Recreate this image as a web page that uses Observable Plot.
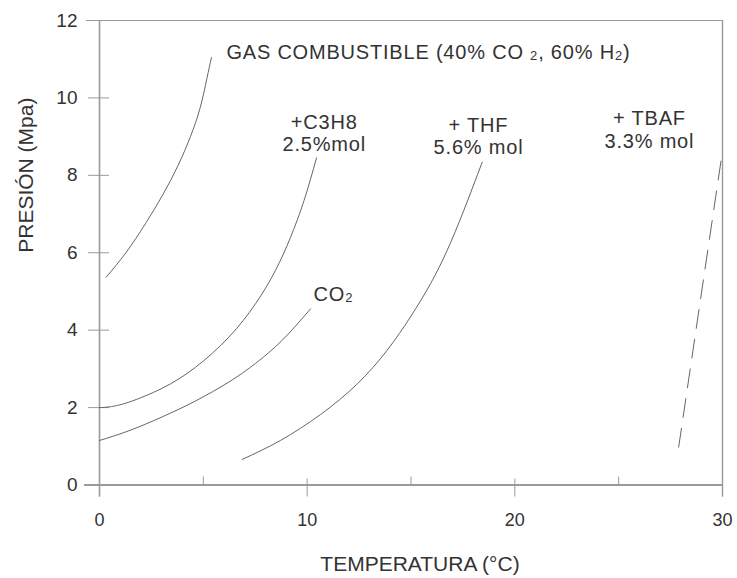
<!DOCTYPE html>
<html>
<head>
<meta charset="utf-8">
<script src="https://cdn.jsdelivr.net/npm/d3@7"></script>
<script src="https://cdn.jsdelivr.net/npm/@observablehq/plot@0.6"></script>
<style>
  html, body { margin: 0; padding: 0; background: #fff; }
  #chart { width: 737px; height: 578px; }
</style>
</head>
<body>
<div id="chart"></div>
<script>
// ---- Data ----
const xTicks = [0, 10, 20, 30];
const xMinorTicks = [5, 15, 25];
const yTicks = [0, 2, 4, 6, 8, 10, 12];

const xTitle = "TEMPERATURA (°C)";
const yTitle = "PRESIÓN (Mpa)";

// Gas combustible (40% CO2, 60% H2)
const gasT = [0.32, 1.27, 2.21, 3.05, 3.78, 4.38, 4.85, 5.17, 5.39];
const gasP = [5.37, 6.0, 6.75, 7.5, 8.25, 9.0, 9.75, 10.5, 11.04];
// + C3H8 2.5% mol
const c3h8T = [0, 0.5, 1.41, 3.02, 4.62, 6.23, 7.51, 8.47, 9.2, 9.85, 10.45];
const c3h8P = [2.0, 2.02, 2.14, 2.5, 3.04, 3.82, 4.68, 5.54, 6.4, 7.35, 8.45];
// CO2
const co2T = [0, 1.41, 3.02, 4.62, 6.23, 7.51, 8.80, 10.16];
const co2P = [1.15, 1.40, 1.76, 2.17, 2.66, 3.14, 3.74, 4.55];
// + THF 5.6% mol
const thfT = [6.87, 8.71, 10.64, 12.41, 13.85, 14.97, 15.94, 16.74, 17.54, 18.43];
const thfP = [0.66, 1.15, 1.82, 2.61, 3.48, 4.34, 5.2, 6.06, 7.09, 8.34];
// + TBAF 3.3% mol (dashed)
const tbafT = [27.89, 29.93];
const tbafP = [0.98, 8.38];

// Curve labels (text and anchor point in data units)
const labelText = ["GAS COMBUSTIBLE (40% CO _2, 60% H_2)", "+C3H8\n2.5%mol", "+ THF\n5.6% mol", "+ TBAF\n3.3% mol", "CO_2"];
const labelT = [6.11, 10.82, 18.25, 26.48, 10.31];
const labelP = [11.18, 9.10, 9.02, 9.19, 4.94];
const labelAnchor = ["start", "middle", "middle", "middle", "start"];

// ---- Build rows ----
const rows = (t, p) => t.map((v, i) => ({t: v, p: p[i]}));
const labels = labelText.map((s, i) => ({s, t: labelT[i], p: labelP[i], a: labelAnchor[i]}));

const axisColor = "#9a9a9a";
const curveColor = "#666";
const textColor = "#333";

const lineOpts = {x: "t", y: "p", stroke: curveColor, strokeWidth: 1, curve: "natural"};
const labelOpts = {x: "t", y: "p", text: "s", lineAnchor: "middle", lineHeight: 1.12, fontSize: 20, fill: textColor};

const svg = Plot.plot({
  width: 737,
  height: 578,
  marginLeft: 99,
  marginRight: 15,
  marginTop: 20,
  marginBottom: 93.5,
  x: {domain: [0, 30]},
  y: {domain: [0, 12]},
  style: {fontFamily: "'Liberation Sans', Arial, Helvetica, sans-serif", color: textColor, background: "#fff", overflow: "visible"},
  marks: [
    // frame lines
    Plot.ruleX([0], {stroke: axisColor, strokeWidth: 1.6, insetBottom: -12}),
    Plot.ruleX([30], {stroke: axisColor, strokeWidth: 1.4, insetBottom: -12}),
    Plot.ruleY([0], {stroke: axisColor, strokeWidth: 2, insetLeft: -15}),
    Plot.ruleY([12], {stroke: axisColor, strokeWidth: 1.2, insetLeft: -13}),
    // y ticks crossing the axis
    Plot.tickY(yTicks, {y: d => d, stroke: axisColor, strokeWidth: 1, insetLeft: -11, insetRight: 613}),
    // x ticks
    Plot.tickX(xTicks, {x: d => d, stroke: axisColor, strokeWidth: 1, insetTop: 458.5, insetBottom: -12}),
    Plot.tickX(xMinorTicks, {x: d => d, stroke: axisColor, strokeWidth: 1, insetTop: 456.5}),
    // tick labels
    Plot.axisY(yTicks, {tickSize: 0, tickPadding: 22, fontSize: 19, label: null, fill: textColor}),
    Plot.axisX(xTicks, {tickSize: 0, tickPadding: 28, fontSize: 18, label: null, fill: textColor}),
    // axis titles
    Plot.text([xTitle], {frameAnchor: "bottom", lineAnchor: "middle", dx: 9, dy: 79, fontSize: 21, fill: textColor}),
    Plot.text([yTitle], {frameAnchor: "left", lineAnchor: "middle", rotate: -90, dx: -73, fontSize: 21, fill: textColor}),
    // curves
    Plot.line(rows(gasT, gasP), lineOpts),
    Plot.line(rows(c3h8T, c3h8P), lineOpts),
    Plot.line(rows(co2T, co2P), lineOpts),
    Plot.line(rows(thfT, thfP), lineOpts),
    Plot.line(rows(tbafT, tbafP), {x: "t", y: "p", stroke: curveColor, strokeWidth: 1, strokeDasharray: "19,11"}),
    // curve labels
    Plot.text(labels.filter(d => d.a === "start"), {...labelOpts, textAnchor: "start"}),
    Plot.text(labels.filter(d => d.a === "middle"), {...labelOpts, textAnchor: "middle"})
  ]
});

// slight letter spacing on the curve labels, and small "2" subscripts on the baseline
const labelKeys = new Set(labelText.map(s => s.replace("\n", "")));
svg.querySelectorAll("text").forEach(t => {
  if (labelKeys.has(t.textContent)) t.style.letterSpacing = "0.8px";
  if (t.children.length || !t.textContent.includes("_")) return;
  const parts = t.textContent.split(/_(\d)/);
  t.textContent = "";
  parts.forEach((p, i) => {
    const ts = document.createElementNS("http://www.w3.org/2000/svg", "tspan");
    ts.textContent = p;
    if (i % 2) { ts.setAttribute("font-size", "13"); ts.setAttribute("dy", "1"); }
    else if (i > 0) { ts.setAttribute("dy", "-1"); }
    t.appendChild(ts);
  });
});

document.getElementById("chart").appendChild(svg);
</script>
</body>
</html>
